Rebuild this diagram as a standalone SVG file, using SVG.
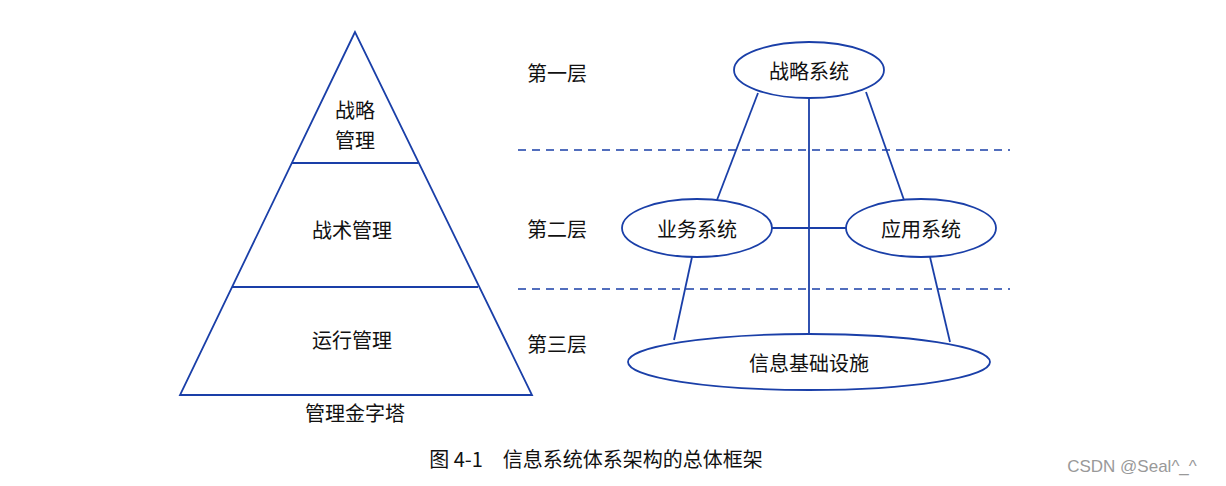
<svg xmlns="http://www.w3.org/2000/svg" width="1226" height="486" viewBox="0 0 1226 486">
<style>
text{font-family:"Noto Sans CJK SC","Noto Sans CJK JP",serif;font-size:20px;fill:#111;text-anchor:middle;dominant-baseline:central}
.s{fill:none;stroke:#1a3fa8;stroke-width:1.8}
.d{fill:none;stroke:#1a3fa8;stroke-width:1.6;stroke-dasharray:8,6}
</style>
<rect width="1226" height="486" fill="#fff"/>
<g id="pyramid">
<polygon class="s" points="355,32 180,395 532,395"/>
<line class="s" x1="292" y1="163" x2="418" y2="163"/>
<line class="s" x1="232" y1="287" x2="478" y2="287"/>
<text x="355" y="109">战略</text><text x="355" y="139">管理</text>
<text x="352" y="229">战术管理</text>
<text x="352" y="339">运行管理</text>
<text x="355" y="412">管理金字塔</text>
</g>
<g id="layers">
<text x="557" y="72">第一层</text>
<text x="557" y="228">第二层</text>
<text x="557" y="343">第三层</text>
<line class="d" x1="518" y1="150" x2="1010" y2="150"/>
<line class="d" x1="518" y1="289" x2="1010" y2="289"/>
</g>
<g id="connectors">
<line class="s" x1="758" y1="93" x2="717" y2="200"/>
<line class="s" x1="866" y1="92" x2="904" y2="200"/>
<line class="s" x1="809" y1="98" x2="809" y2="334"/>
<line class="s" x1="772" y1="228" x2="846" y2="228"/>
<line class="s" x1="692" y1="257" x2="674" y2="340"/>
<line class="s" x1="930" y1="257" x2="950" y2="342"/>
</g>
<g id="n1"><ellipse class="s" cx="809" cy="70" rx="75" ry="28"/><text x="809" y="70">战略系统</text></g>
<g id="n2"><ellipse class="s" cx="697" cy="228" rx="75" ry="29"/><text x="697" y="228">业务系统</text></g>
<g id="n3"><ellipse class="s" cx="921" cy="228" rx="75" ry="29"/><text x="921" y="228">应用系统</text></g>
<g id="n4"><ellipse class="s" cx="809" cy="362" rx="181" ry="28"/><text x="809" y="362">信息基础设施</text></g>
<text x="596" y="458">图 4-1　信息系统体系架构的总体框架</text>
<text x="1132" y="466" style="font-family:'Liberation Sans',sans-serif;font-size:17px;fill:#999">CSDN @Seal^_^</text>
</svg>
